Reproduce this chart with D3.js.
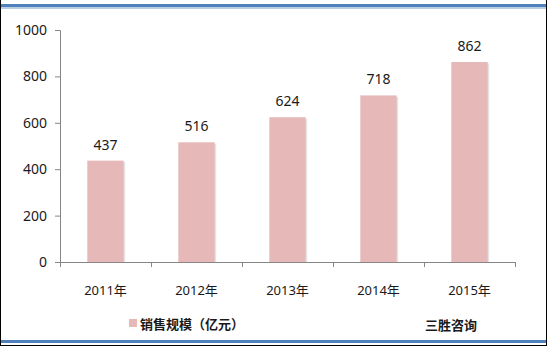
<!DOCTYPE html>
<html>
<head>
<meta charset="utf-8">
<script src="https://cdnjs.cloudflare.com/ajax/libs/d3/7.8.5/d3.min.js"></script>
<style>
  body { margin: 0; background: #fff; }
  text { font-family: "Noto Sans", "Noto Sans CJK SC", sans-serif; fill: #1a1a1a; }
</style>
</head>
<body>
<div id="chart"></div>
<script>
// chart values
var years = ["2011年", "2012年", "2013年", "2014年", "2015年"];
var sales = [437, 516, 624, 718, 862];
var yTicks = [0, 200, 400, 600, 800, 1000];
var seriesName = "销售规模（亿元）";
var sourceName = "三胜咨询";

var W = 550, H = 347;
var margin = { top: 30, right: 35, bottom: 85, left: 60 },
    width = 515 - margin.left,
    height = 262 - margin.top;

var svg = d3.select("#chart").append("svg")
    .attr("width", W)
    .attr("height", H);

// frame lines
svg.append("rect").attr("x", 0).attr("y", 4).attr("width", 547).attr("height", 3).attr("fill", "#4f81bd");
svg.append("rect").attr("x", 0).attr("y", 7).attr("width", 547).attr("height", 2).attr("fill", "#b9cde5");
svg.append("rect").attr("x", 0).attr("y", 340).attr("width", 547).attr("height", 3).attr("fill", "#4f81bd");
svg.append("line").attr("x1", 0.5).attr("x2", 0.5).attr("y1", 0).attr("y2", 346).attr("stroke", "#000");
svg.append("line").attr("x1", 546.5).attr("x2", 546.5).attr("y1", 0).attr("y2", 346).attr("stroke", "#000");
svg.append("line").attr("x1", 0).attr("x2", 547).attr("y1", 345.5).attr("y2", 345.5).attr("stroke", "#000");

var g = svg.append("g")
    .attr("transform", "translate(" + margin.left + "," + margin.top + ")");

var x = d3.scaleBand().domain(years).range([0, width]).paddingInner(0.6).paddingOuter(0.3);
var xTickScale = d3.scaleLinear().domain([0, years.length]).range([0, width]);
var y = d3.scaleLinear().domain([0, 1000]).range([height, 0]);

// bars with a thin gray shadow on the right
g.selectAll(".shadow").data(sales).enter().append("rect")
    .attr("x", function(d, i) { return x(years[i]) + 1.5; })
    .attr("y", function(d) { return y(d) + 1.5; })
    .attr("width", x.bandwidth())
    .attr("height", function(d) { return height - y(d) - 1.5; })
    .attr("fill", "#e3e3e3");

g.selectAll(".bar").data(sales).enter().append("rect")
    .attr("class", "bar")
    .attr("x", function(d, i) { return x(years[i]); })
    .attr("y", function(d) { return y(d); })
    .attr("width", x.bandwidth())
    .attr("height", function(d) { return height - y(d); })
    .attr("fill", "#e6b9b8");

// value labels
g.selectAll(".val").data(sales).enter().append("text")
    .attr("x", function(d, i) { return x(years[i]) + x.bandwidth() / 2; })
    .attr("y", function(d) { return y(d) - 11; })
    .attr("text-anchor", "middle")
    .style("font-size", "14px")
    .text(function(d) { return d; });

// y axis
var yAxis = g.append("g").call(d3.axisLeft(y).tickValues(yTicks).tickSize(5).tickPadding(8).tickFormat(d3.format("d")));
yAxis.selectAll("text").style("font-size", "14px").attr("fill", "#1a1a1a");
yAxis.selectAll("line, path").attr("stroke", "#868686");
yAxis.select(".domain").attr("d", "M-5,0.5H0.5V" + height);

// x axis (ticks between categories)
var xAxis = g.append("g").attr("transform", "translate(0," + height + ")")
    .call(d3.axisBottom(xTickScale).tickValues(d3.range(years.length + 1)).tickSize(5).tickFormat(""));
xAxis.selectAll("line, path").attr("stroke", "#868686");
xAxis.select(".domain").attr("d", "M0.5,0.5H" + (width + 0.5));

g.selectAll(".xl").data(years).enter().append("text")
    .attr("x", function(d) { return x(d) + x.bandwidth() / 2; })
    .attr("y", height + 33)
    .attr("text-anchor", "middle")
    .style("font-size", "13px")
    .text(function(d) { return d; });

// legend
svg.append("rect").attr("x", 129).attr("y", 319).attr("width", 8).attr("height", 8).attr("fill", "#e6b9b8");
svg.append("text").attr("x", 140).attr("y", 329)
    .style("font-size", "13px").style("font-weight", "bold")
    .style("font-family", "'Noto Sans CJK SC', sans-serif")
    .text(seriesName);
svg.append("text").attr("x", 425).attr("y", 330)
    .style("font-size", "13px").style("font-weight", "bold")
    .style("font-family", "'Noto Sans CJK SC', sans-serif")
    .text(sourceName);
</script>
</body>
</html>
